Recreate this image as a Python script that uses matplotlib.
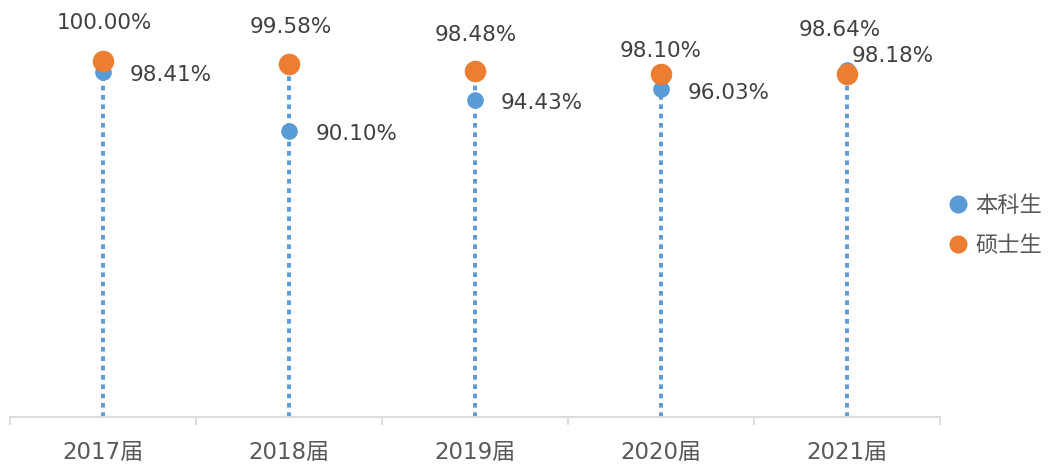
import numpy as np
import matplotlib
matplotlib.use('Agg')
import matplotlib.pyplot as plt
from matplotlib.ticker import FixedLocator

plt.rcParams['font.family'] = ['DejaVu Sans', 'Noto Sans CJK SC']

# data
years = ['2017届', '2018届', '2019届', '2020届', '2021届']
undergrad = [98.41, 90.10, 94.43, 96.03, 98.64]   # 本科生
master = [100.00, 99.58, 98.48, 98.10, 98.18]     # 硕士生
series_names = ['本科生', '硕士生']

BLUE = '#5B9BD5'
ORANGE = '#ED7D31'
GRID = '#D9D9D9'
TEXT = '#404040'

# label placement (pixels offset from point, alignment)
blue_lab = [(27, 3, 'left'), (27, 3, 'left'), (26, 3, 'left'), (27, 4, 'left'), (-7, -40, 'center')]
orange_lab = [(1, -38, 'center'), (2, -37, 'center'), (1, -36, 'center'), (0, -23, 'center'), (5, -18, 'left')]

fig = plt.figure(figsize=(10.51, 4.65), dpi=100)
ax = fig.add_axes([10 / 1051, 1 - 417 / 465, 930 / 1051, 417 / 465])
ax.set_ylim(50, 108.5)
x = np.arange(len(years))
ax.set_xlim(-0.5, len(years) - 0.5)

# dotted drop lines up to the higher of the two values
tops = np.maximum(undergrad, master)
for xi, top in zip(x, tops):
    ax.plot([xi, xi], [50, top], color=BLUE, lw=2.8, linestyle=(0, (1.2, 1.2)),
            solid_capstyle='butt', dash_capstyle='butt', zorder=1)

ax.plot(x, undergrad, 'o', color=BLUE, ms=12, mec='none', zorder=3, label=series_names[0])
ax.plot(x, master, 'o', color=ORANGE, ms=15.5, mec='none', zorder=4, label=series_names[1])

def put_labels(vals, layout):
    for xi, v, (dx, dy, ha) in zip(x, vals, layout):
        ax.annotate(f'{v:.2f}%', (xi, v), xytext=(dx, -dy), textcoords='offset pixels',
                    ha=ha, va='center', fontsize=15.5, color=TEXT)

put_labels(undergrad, blue_lab)
put_labels(master, orange_lab)

for side in ['top', 'right', 'left']:
    ax.spines[side].set_visible(False)
ax.spines['bottom'].set_color(GRID)
ax.spines['bottom'].set_linewidth(1.3)
ax.set_yticks([])

ax.set_xticks(x)
ax.set_xticklabels(years, fontsize=16.5, color='#595959')
ax.tick_params(axis='x', which='major', length=0, pad=17)
ax.xaxis.set_minor_locator(FixedLocator(np.arange(-0.5, len(years), 1.0)))
ax.tick_params(axis='x', which='minor', length=6, width=1.3, color=GRID)

leg = fig.legend(loc='center left', bbox_to_anchor=(0.879, 0.515), frameon=False,
                 fontsize=16, handletextpad=0.1, labelspacing=0.9, handlelength=1.3)
for t in leg.get_texts():
    t.set_color('#595959')
leg.legend_handles[0].set_markersize(13)
leg.legend_handles[1].set_markersize(13)

fig.savefig('out.png', dpi=100)
